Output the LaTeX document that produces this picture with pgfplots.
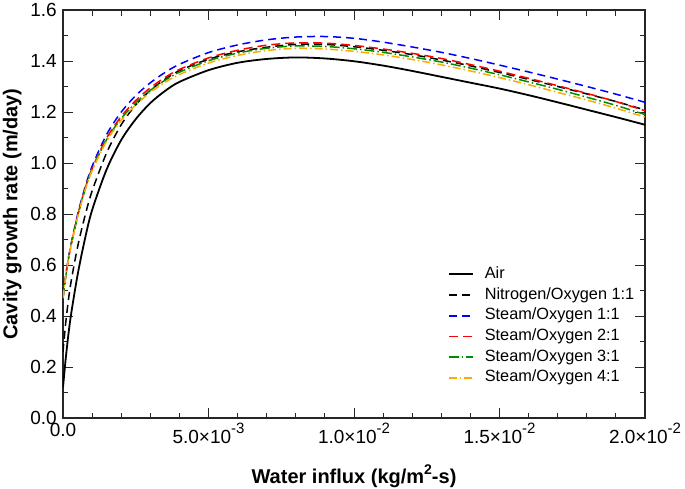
\documentclass[border=0pt]{standalone}
\usepackage{pgfplots}
\pgfplotsset{compat=1.18}
\usepackage{pgfplotstable}
\usepackage{fontspec}
\setmainfont{Liberation Sans}

\pgfplotstableread{
x air no s1 s2 s3 s4
0 0.12 0.26 0.476 0.47 0.47 0.47
0.0001 0.24 0.38 0.565 0.56 0.56 0.56
0.00025 0.385 0.515 0.667 0.662 0.662 0.66
0.0005 0.56 0.67 0.797 0.792 0.79 0.787
0.00075 0.70 0.79 0.902 0.896 0.893 0.889
0.001 0.815 0.89 0.987 0.978 0.975 0.97
0.0015 0.975 1.04 1.112 1.098 1.092 1.086
0.002 1.09 1.15 1.1995 1.182 1.174 1.167
0.0025 1.172 1.228 1.2645 1.245 1.236 1.228
0.003 1.235 1.285 1.3145 1.295 1.285 1.277
0.0035 1.282 1.328 1.3545 1.335 1.324 1.316
0.004 1.318 1.362 1.387 1.367 1.356 1.347
0.005 1.364 1.407 1.433 1.412 1.401 1.392
0.006 1.393 1.436 1.463 1.442 1.431 1.422
0.007 1.408 1.454 1.483 1.462 1.450 1.441
0.008 1.414 1.465 1.494 1.471 1.459 1.450
0.009 1.410 1.465 1.496 1.470 1.457 1.447
0.010 1.399 1.456 1.489 1.461 1.448 1.438
0.011 1.382 1.442 1.474 1.447 1.434 1.424
0.012 1.361 1.425 1.455 1.430 1.416 1.406
0.013 1.338 1.404 1.434 1.410 1.396 1.385
0.014 1.315 1.381 1.410 1.386 1.372 1.361
0.015 1.292 1.355 1.384 1.360 1.346 1.335
0.016 1.266 1.328 1.357 1.332 1.318 1.307
0.017 1.238 1.300 1.329 1.303 1.289 1.277
0.018 1.209 1.271 1.300 1.273 1.258 1.247
0.019 1.180 1.241 1.270 1.241 1.226 1.215
0.020 1.150 1.208 1.238 1.205 1.190 1.180
}\data

\definecolor{cgreen}{RGB}{0,140,0}
\definecolor{corange}{RGB}{255,170,0}

\newcommand{\sci}[2]{#1×10\raisebox{0.5em}{\fontsize{15}{15}\selectfont #2}}

\begin{document}
\begin{tikzpicture}
\useasboundingbox (-63pt,-70pt) rectangle (622pt,418pt);
\begin{axis}[
  at={(0pt,0pt)}, anchor=south west,
  scale only axis, width=582pt, height=408pt,
  xmin=0, xmax=0.02, ymin=0, ymax=1.6,
  xtick={0,0.005,0.01,0.015,0.02},
  xticklabels={0.0,\sci{5.0}{-3},\sci{1.0}{-2},\sci{1.5}{-2},\sci{2.0}{-2}},
  scaled x ticks=false,
  ytick={0,0.2,...,1.6},
  minor x tick num=4, minor y tick num=1,
  tick align=inside,
  major tick length=10pt, minor tick length=5.5pt,
  axis line style={line width=1.4pt, black!85},
  every tick/.style={line width=0.9pt, black!85},
  yticklabel style={/pgf/number format/.cd, fixed, fixed zerofill, precision=1, assume math mode=true},
  tick label style={font=\fontsize{19}{22}\selectfont, inner sep=0pt},
  xticklabel shift=5pt, yticklabel shift=6pt,
  xlabel={Water influx (kg/m\raisebox{0.45em}{\fontsize{14}{14}\selectfont 2}-s)},
  ylabel={Cavity growth rate (m/day)},
  every axis x label/.style={at={(axis description cs:0.5,-0.1593)}, anchor=base, font=\fontsize{20}{24}\selectfont\bfseries},
  every axis y label/.style={at={(axis description cs:-0.0782,0.5)}, rotate=90, anchor=base, font=\fontsize{20}{24}\selectfont\bfseries},
  legend cell align=left,
  legend style={draw=none, fill=none, at={(axis description cs:0.656,0.377)}, anchor=north west,
    font=\fontsize{16.3}{19}\selectfont, row sep=4.7pt, column sep=11pt,
    nodes={inner sep=0pt, text height=12pt, text depth=4pt}},
  legend image code/.code={\draw[#1] (0pt,0pt) -- (24pt,0pt);},
]
\addplot[black, line width=1.8pt, smooth] table[x=x,y=air] {\data};
\addlegendentry{Air}
\addplot[black, line width=1.5pt, smooth, dash pattern=on 8pt off 5pt] table[x=x,y=no] {\data};
\addlegendentry{Nitrogen/Oxygen 1:1}
\addplot[blue, line width=1.5pt, smooth, dash pattern=on 8pt off 5pt] table[x=x,y=s1] {\data};
\addlegendentry{Steam/Oxygen 1:1}
\addplot[red, line width=1.5pt, smooth, dash pattern=on 9pt off 5pt] table[x=x,y=s2] {\data};
\addlegendentry{Steam/Oxygen 2:1}
\addplot[cgreen, line width=1.5pt, smooth, dash pattern=on 10pt off 3pt on 1.5pt off 3pt] table[x=x,y=s3] {\data};
\addlegendentry{Steam/Oxygen 3:1}
\addplot[corange, line width=1.5pt, smooth, dash pattern=on 8pt off 3pt on 1.5pt off 3pt] table[x=x,y=s4] {\data};
\addlegendentry{Steam/Oxygen 4:1}
\end{axis}
\end{tikzpicture}
\end{document}
